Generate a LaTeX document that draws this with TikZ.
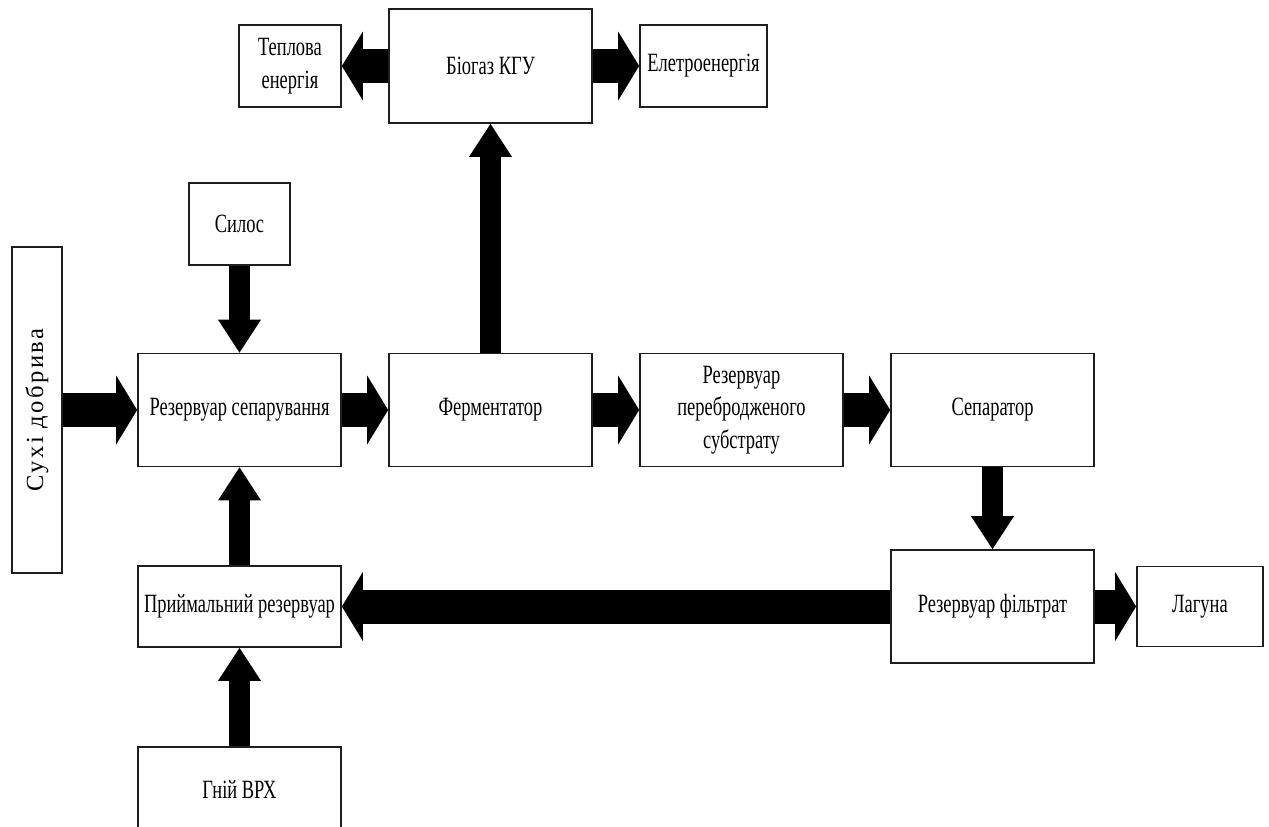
\documentclass[tikz,border=0pt]{standalone}
\usepackage{fontspec}
\setmainfont{Liberation Serif}[FakeStretch=0.7]
\newfontfamily\sidefont{Liberation Serif}[LetterSpace=10]
\usepackage{xcolor}
\usepackage{tikz}
\usetikzlibrary{arrows.meta}
\definecolor{flowc}{RGB}{0,0,0}
\definecolor{boxc}{RGB}{30,30,30}
\tikzset{
  blk/.style={draw=boxc, line width=1pt, fill=white, inner sep=2pt, align=center,
              font=\fontsize{15}{18.5}\selectfont},
  mainblk/.style={blk, minimum width=4.06cm, minimum height=2.26cm},
  smallblk/.style={blk, minimum height=1.64cm},
  sideblk/.style={blk, rotate=90, minimum width=6.52cm, minimum height=1.0cm,
                  font=\sidefont\fontsize{14}{16}\selectfont},
  fat/.style={-{Triangle[length=0.42cm, width=1.38cm, line width=0pt]}, line width=0.68cm, flowc},
  slim/.style={-{Triangle[length=0.66cm, width=0.86cm, line width=0pt]}, line width=0.42cm, flowc}
}

\begin{document}
\begin{tikzpicture}[x=0.02cm, y=-0.02cm]
\useasboundingbox (0,0) rectangle (1269,826);
% top row
\node[smallblk, minimum width=2.04cm] (heat) at (290,66) {Теплова\\енергія};
\node[blk, minimum width=4.06cm, minimum height=2.28cm] (kgu) at (490.5,66) {Біогаз КГУ};
\node[smallblk, minimum width=2.54cm] (power) at (703.5,66) {Елетроенергія};
\node[smallblk, minimum width=2.02cm] (silo) at (239.5,224) {Силос};
% main line
\node[sideblk] (dry) at (37,410) {Сухі добрива};
\node[mainblk] (sep) at (239.5,410) {Резервуар сепарування};
\node[mainblk] (ferm) at (490.5,410) {Ферментатор};
\node[mainblk] (dig) at (741.5,410) {Резервуар\\перебродженого\\субстрату};
\node[mainblk] (separ) at (992.5,410) {Сепаратор};
% lower part
\node[mainblk] (filt) at (992.5,606.5) {Резервуар фільтрат};
\node[blk, minimum width=2.52cm, minimum height=1.6cm] (lag) at (1200,606.5) {Лагуна};
\node[blk, minimum width=4.06cm, minimum height=1.62cm] (recv) at (239.5,606.5) {Приймальний резервуар};
\node[blk, minimum width=4.06cm, minimum height=1.72cm] (manure) at (239.5,790) {Гній ВРХ};

\draw[fat] (kgu.west) -- (heat.east);
\draw[fat] (kgu.east) -- (power.west);
\draw[slim] (ferm.north) -- (kgu.south);
\draw[slim] (silo.south) -- (sep.north);
\draw[fat] (dry.south) -- (sep.west);
\draw[fat] (sep.east) -- (ferm.west);
\draw[fat] (ferm.east) -- (dig.west);
\draw[fat] (dig.east) -- (separ.west);
\draw[slim] (separ.south) -- (filt.north);
\draw[fat] (filt.east) -- (lag.west);
\draw[fat] (filt.west) -- (recv.east);
\draw[slim] (recv.north) -- (sep.south);
\draw[slim] (manure.north) -- (recv.south);
\end{tikzpicture}
\end{document}
